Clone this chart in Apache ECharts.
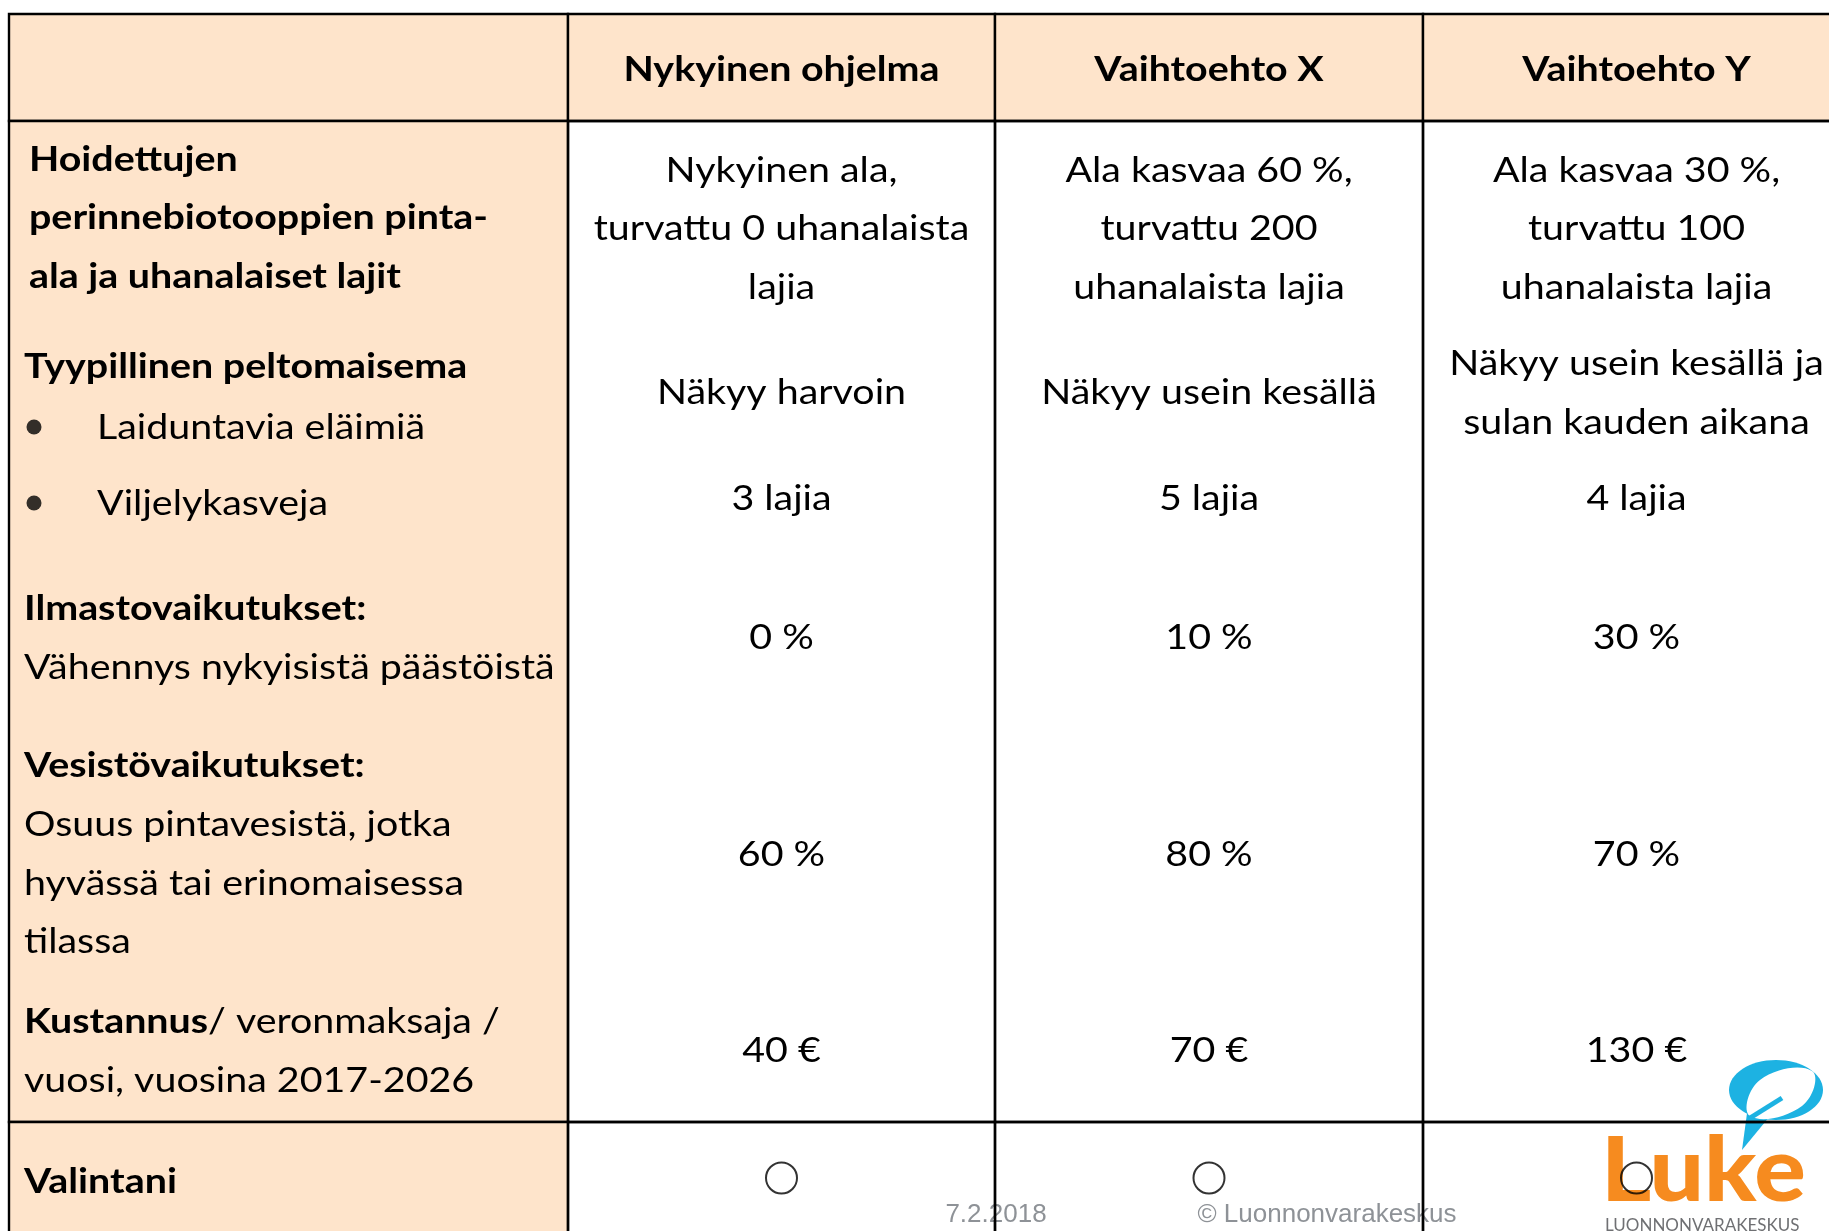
<!DOCTYPE html>
<html lang="fi">
<head>
<meta charset="UTF-8">
<title>Vaihtoehtojen vertailu</title>
<script src="https://cdn.jsdelivr.net/npm/echarts@6.0.0/dist/echarts.min.js"></script>
<style>
    html, body { margin: 0; padding: 0; background: #fff; }
    #chart { width: 1829px; height: 1231px; }
</style>
</head>
<body>
<div id="chart"></div>
<script>
    // ---- table content ----
    const options = ['Nykyinen ohjelma', 'Vaihtoehto X', 'Vaihtoehto Y'];

    const criterionHeads = [
        'Hoidettujen\nperinnebiotooppien pinta-\nala ja uhanalaiset lajit',
        'Tyypillinen peltomaisema',
        'Ilmastovaikutukset:',
        'Vesistövaikutukset:',
        'Kustannus',
        'Valintani'
    ];
    const criterionTails = [
        '',
        '',
        '\nVähennys nykyisistä päästöistä',
        '\nOsuus pintavesistä, jotka\nhyvässä tai erinomaisessa\ntilassa',
        '/ veronmaksaja /\nvuosi, vuosina 2017-2026',
        ''
    ];
    const landscapeItems = ['Laiduntavia eläimiä', 'Viljelykasveja'];

    const areaOutcome = [
        'Nykyinen ala,\nturvattu 0 uhanalaista\nlajia',
        'Ala kasvaa 60 %,\nturvattu 200\nuhanalaista lajia',
        'Ala kasvaa 30 %,\nturvattu 100\nuhanalaista lajia'
    ];
    const grazingSeen = ['Näkyy harvoin', 'Näkyy usein kesällä', 'Näkyy usein kesällä ja\nsulan kauden aikana'];
    const cropSpecies = [3, 5, 4];      // lajia
    const emissionCut = [0, 10, 30];    // %
    const goodWaters = [60, 80, 70];    // %
    const costEur = [40, 70, 130];      // € / vuosi

    // ---- layout (chart space, px) ----
    const colEdges = [9, 568, 995, 1423, 1850];
    const rowEdges = [14, 121, 1122, 1262];
    const headerY = 70;
    const bodyY = { area: 229, grazing: 393, crops: 499, climate: 638, water: 855, cost: 1051, choice: 1178 };
    const leftX = [29, 24, 24, 24, 24, 24];
    const leftY = [218, 367, 638, 854, 1051, 1182];
    const bulletX = 34, bulletTextX = 97;
    const bulletY = [428, 504];

    const FONT = 'Lato';
    const FS = 35;
    const LH = 58.7;
    const SX = 1.125;
    const PEACH = '#FEE4CB';

    const colMid = i => (colEdges[i] + colEdges[i + 1]) / 2;

    function richLabel(head, tail) {
        const lines = head.split('\n').map(l => '{b|' + l + '}');
        const t = tail.split('\n');
        if (t[0]) lines[lines.length - 1] += '{r|' + t[0] + '}';
        t.slice(1).forEach(l => lines.push('{r|' + l + '}'));
        return lines.join('\n');
    }

    // text anchors
    const texts = [];
    options.forEach((name, i) => texts.push({ x: colMid(i + 1), y: headerY, text: name, bold: true }));
    criterionHeads.forEach((h, i) => texts.push({ x: leftX[i], y: leftY[i], rich: richLabel(h, criterionTails[i]), align: 'left' }));
    landscapeItems.forEach((t, i) => texts.push({ x: bulletTextX, y: bulletY[i], text: t, align: 'left' }));
    options.forEach((_, i) => {
        const x = colMid(i + 1);
        texts.push({ x, y: bodyY.area, text: areaOutcome[i] });
        texts.push({ x, y: bodyY.grazing, text: grazingSeen[i] });
        texts.push({ x, y: bodyY.crops, text: cropSpecies[i] + ' lajia' });
        texts.push({ x, y: bodyY.climate, text: emissionCut[i] + ' %' });
        texts.push({ x, y: bodyY.water, text: goodWaters[i] + ' %' });
        texts.push({ x, y: bodyY.cost, text: costEur[i] + ' €' });
    });

    // cells: [x0, y0, x1, y1, col, row]
    const cells = [];
    for (let r = 0; r < rowEdges.length - 1; r++) {
        for (let c = 0; c < colEdges.length - 1; c++) {
            cells.push([colEdges[c], rowEdges[r], colEdges[c + 1], rowEdges[r + 1], c, r]);
        }
    }

    const chart = echarts.init(document.getElementById('chart'));

    const baseStyle = { fontFamily: FONT, fontSize: FS, lineHeight: LH, fill: '#000' };

    const option = {
        animation: false,
        backgroundColor: '#fff',
        grid: { left: 0, right: 0, top: 0, bottom: 0 },
        xAxis: { type: 'value', min: 0, max: 1829, show: false },
        yAxis: { type: 'value', min: 0, max: 1231, inverse: true, show: false },
        graphic: {
            elements: [
                { type: 'text', z: 0, x: 996, y: 1215,
                  style: { text: '7.2.2018', fill: '#8E9297', font: '26px "Liberation Sans", Arial', align: 'center', verticalAlign: 'middle' } },
                { type: 'text', z: 0, x: 1327, y: 1215,
                  style: { text: '© Luonnonvarakeskus', fill: '#8E9297', font: '26px "Liberation Sans", Arial', align: 'center', verticalAlign: 'middle' } },
                // Luke logo
                { type: 'ellipse', z: 0, shape: { cx: 1776, cy: 1090, rx: 47, ry: 30 }, style: { fill: '#1DB2E2' } },
                { type: 'polygon', z: 0, shape: { points: [[1742, 1150], [1748, 1106], [1770, 1116]] }, style: { fill: '#1DB2E2' } },
                { type: 'polygon', z: 0, shape: { smooth: 0.45, points: [[1750, 1116], [1760, 1080], [1812, 1071], [1802, 1106]] }, style: { fill: '#fff' } },
                { type: 'line', z: 0, shape: { x1: 1750, y1: 1118, x2: 1782, y2: 1098 }, style: { stroke: '#1DB2E2', lineWidth: 5 } },
                { type: 'text', z: 0, x: 1601, y: 1172, scaleX: 1.07,
                  style: { text: 'Luke', fill: '#F68B1F', font: '900 90px Lato', align: 'left', verticalAlign: 'middle' } },
                { type: 'text', z: 0, x: 1605, y: 1217, scaleX: 1.0,
                  style: { text: 'LUONNONVARAKESKUS', fill: '#6F7073', font: '17px Lato', align: 'left', verticalAlign: 'top' } }
            ]
        },
        series: [
            {
                type: 'custom',
                z: 5,
                silent: true,
                data: cells,
                renderItem: function (params, api) {
                    const p0 = api.coord([api.value(0), api.value(1)]);
                    const p1 = api.coord([api.value(2), api.value(3)]);
                    const peach = api.value(4) === 0 || api.value(5) === 0;
                    return {
                        type: 'rect',
                        shape: { x: p0[0], y: p0[1], width: p1[0] - p0[0], height: p1[1] - p0[1] },
                        style: { fill: peach ? PEACH : 'rgba(255,255,255,0)', stroke: '#000', lineWidth: 2.4 }
                    };
                }
            },
            {
                type: 'custom',
                z: 6,
                silent: true,
                data: texts.map(t => [t.x, t.y]),
                renderItem: function (params, api) {
                    const t = texts[params.dataIndex];
                    const p = api.coord([api.value(0), api.value(1)]);
                    const style = Object.assign({}, baseStyle, {
                        text: t.rich || t.text,
                        align: t.align || 'center',
                        verticalAlign: 'middle',
                        fontWeight: t.bold ? 'bold' : 'normal'
                    });
                    if (t.rich) {
                        style.rich = {
                            b: Object.assign({}, baseStyle, { fontWeight: 'bold' }),
                            r: Object.assign({}, baseStyle, { fontWeight: 'normal' })
                        };
                    }
                    return { type: 'text', x: p[0], y: p[1], scaleX: SX, style: style };
                }
            },
            {
                // bullet dots
                type: 'scatter',
                z: 6,
                silent: true,
                symbol: 'circle',
                symbolSize: 15,
                itemStyle: { color: '#000' },
                data: bulletY.map(y => [bulletX, y - 1])
            },
            {
                // empty choice circles
                type: 'scatter',
                z: 6,
                silent: true,
                symbol: 'circle',
                symbolSize: 31,
                itemStyle: { color: 'rgba(255,255,255,0)', borderColor: '#000', borderWidth: 2 },
                data: options.map((_, i) => [colMid(i + 1), bodyY.choice])
            }
        ]
    };

    chart.setOption(option);
</script>
</body>
</html>
